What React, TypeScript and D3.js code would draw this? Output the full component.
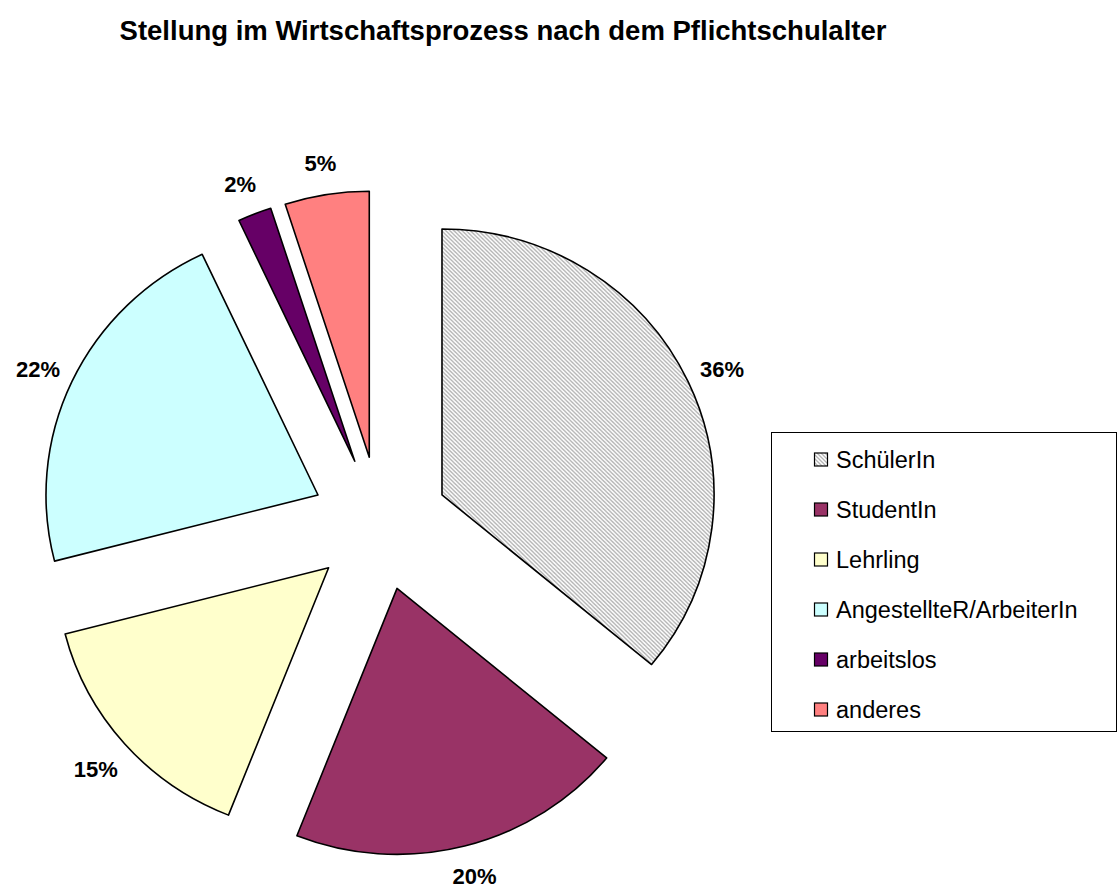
import React from "react";
import * as d3 from "d3";

const title = "Stellung im Wirtschaftsprozess nach dem Pflichtschulalter";
const categories = ["SchülerIn", "StudentIn", "Lehrling", "AngestellteR/ArbeiterIn", "arbeitslos", "anderes"];
const values = [36, 20, 15, 22, 2, 5];
const colors = ["url(#hatch)", "#993366", "#FFFFCC", "#CCFFFF", "#660066", "#FF8080"];

const W = 1117;
const H = 891;
const cx = 380;
const cy = 523.5;
const r = 266;
const sx = 1.0226;
const explode = 67;
const labelR = 368;
const font = "Arial, 'Liberation Sans', sans-serif";

export default function App() {
  const pie = d3.pie<number>().sort(null).value((d) => d)(values);
  const arc = d3.arc<d3.PieArcDatum<number>>().innerRadius(0).outerRadius(r);
  const total = d3.sum(values);

  return (
    <svg width={W} height={H} style={{ position: "absolute", left: 0, top: 0 }}>
      <defs>
        <pattern id="hatch" patternUnits="userSpaceOnUse" width={4} height={4}>
          <rect width={4} height={4} fill="#ffffff" />
          <path d="M-1,-1 L5,5 M-1,3 L1,5 M3,-1 L5,1" stroke="#b4b4b4" strokeWidth={1.3} />
        </pattern>
      </defs>
      <rect width={W} height={H} fill="#ffffff" />
      <text x={503} y={30} textAnchor="middle" dominantBaseline="central" fontFamily={font} fontWeight="bold" fontSize={27.5}>
        {title}
      </text>
      <g transform={`translate(${cx},${cy}) scale(${sx},1)`}>
        {pie.map((p, i) => {
          const mid = (p.startAngle + p.endAngle) / 2;
          const ox = explode * Math.sin(mid);
          const oy = -explode * Math.cos(mid);
          return (
            <path
              key={i}
              d={arc(p) || ""}
              transform={`translate(${ox},${oy})`}
              fill={colors[i]}
              stroke="#000"
              strokeWidth={1.6}
              strokeLinejoin="round"
              vectorEffect="non-scaling-stroke"
            />
          );
        })}
      </g>
      {pie.map((p, i) => {
        const mid = (p.startAngle + p.endAngle) / 2;
        const x = cx + sx * labelR * Math.sin(mid) + 4 * Math.sin(mid) * Math.abs(Math.cos(mid));
        const y = Math.min(cy - labelR * Math.cos(mid) + 3, H - 15);
        return (
          <text key={i} x={x} y={y} textAnchor="middle" dominantBaseline="central" fontFamily={font} fontWeight="bold" fontSize={22}>
            {`${Math.round((values[i] / total) * 100)}%`}
          </text>
        );
      })}
      <g>
        <rect x={771.5} y={432.5} width={345} height={299} fill="#fff" stroke="#000" strokeWidth={1} />
        {categories.map((c, i) => {
          const y = 460 + i * 50;
          return (
            <g key={c}>
              <rect x={814.5} y={y - 7} width={13} height={13} fill={colors[i]} stroke="#000" strokeWidth={1.2} />
              <text x={836} y={y} dominantBaseline="central" fontFamily={font} fontSize={23.5}>
                {c}
              </text>
            </g>
          );
        })}
      </g>
    </svg>
  );
}
